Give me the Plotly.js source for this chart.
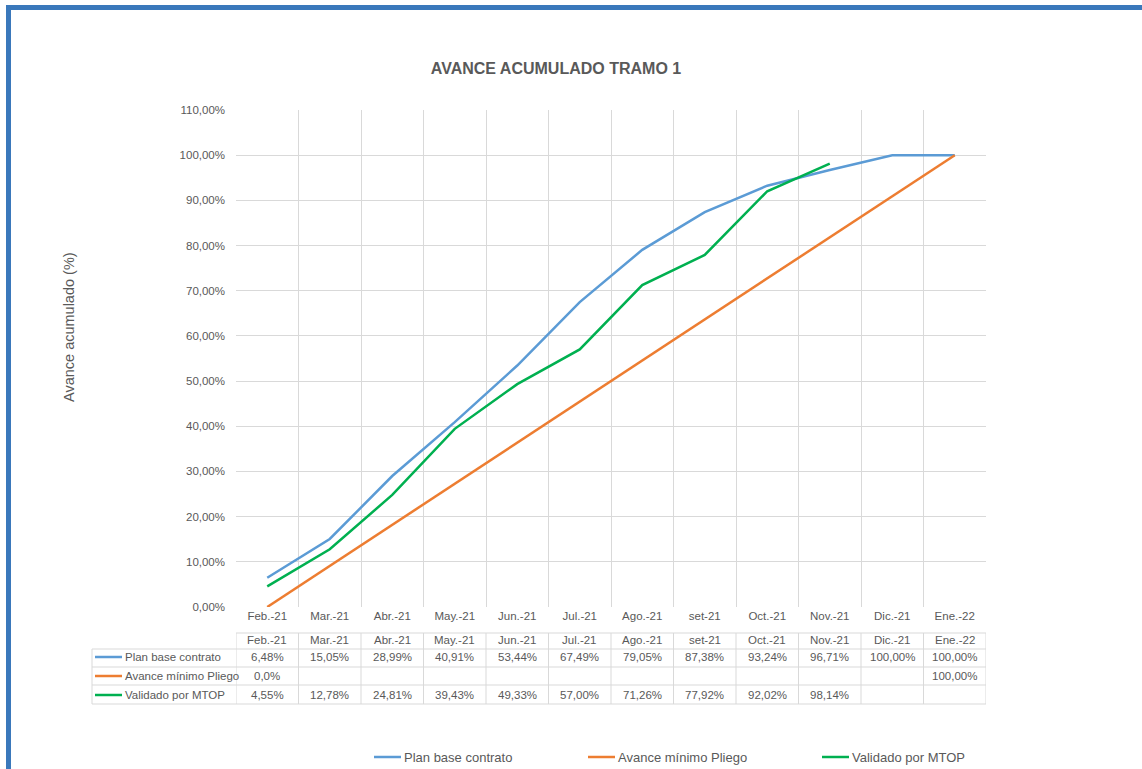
<!DOCTYPE html>
<html>
<head>
<meta charset="utf-8">
<script src="https://cdn.plot.ly/plotly-3.0.1.min.js"></script>
<style>
  html, body { margin: 0; padding: 0; background: #fff; overflow: hidden; }
  #chart { width: 1142px; height: 769px; }
</style>
</head>
<body>
<div id="chart"></div>
<script>
const months = ['Feb.-21','Mar.-21','Abr.-21','May.-21','Jun.-21','Jul.-21','Ago.-21','set-21','Oct.-21','Nov.-21','Dic.-21','Ene.-22'];
const planBase = [6.48, 15.05, 28.99, 40.91, 53.44, 67.49, 79.05, 87.38, 93.24, 96.71, 100.00, 100.00];
const pliego   = [0.0, null, null, null, null, null, null, null, null, null, null, 100.00];
const validado = [4.55, 12.78, 24.81, 39.43, 49.33, 57.00, 71.26, 77.92, 92.02, 98.14, null, null];

const seriesNames = ['Plan base contrato', 'Avance mínimo Pliego', 'Validado por MTOP'];
const seriesColors = ['#5b9bd5', '#ed7d31', '#00b050'];

// plot area in pixels
const FW = 1142, FH = 769;
const L = 236, R = 986, T = 110, B = 607;
const W = R - L, H = B - T;
function px(x) { return (x - L) / W; }
function py(y) { return (B - y) / H; }

function fmt(v, d) {
    if (v === null) return '';
    return v.toFixed(d).replace('.', ',') + '%';
}

const txtCol = '#595959';
const gridCol = '#d9d9d9';
const font = 'Liberation Sans, Arial, sans-serif';
const fs = 11.5;

// traces
const allSeries = [planBase, pliego, validado];
let traces = allSeries.map(function (vals, k) {
    return {
        x: months,
        y: vals.map(v => v === null ? null : v / 100),
        mode: 'lines',
        name: seriesNames[k],
        connectgaps: true,
        line: { color: seriesColors[k], width: 2.5 },
        hoverinfo: 'skip'
    };
});

// data table below the plot
let shapes = [];
let annotations = [];

const tblTop = 633, tblHead = 649, tblBot = 704, tblLeft = 92;
const rowMid = [657, 676, 695];
const rowLines = [667, 685];

// vertical lines at category boundaries
for (let i = 0; i <= months.length; i++) {
    shapes.push({ type: 'line', xref: 'x', yref: 'paper', x0: i - 0.5, x1: i - 0.5,
        y0: py(tblTop), y1: py(tblBot), line: { color: gridCol, width: 1 } });
}
// left border of the series name column
shapes.push({ type: 'line', xref: 'paper', yref: 'paper', x0: px(tblLeft), x1: px(tblLeft),
    y0: py(tblHead), y1: py(tblBot), line: { color: gridCol, width: 1 } });
// horizontal lines
shapes.push({ type: 'line', xref: 'paper', yref: 'paper', x0: 0, x1: 1,
    y0: py(tblTop), y1: py(tblTop), line: { color: gridCol, width: 1 } });
[tblHead].concat(rowLines).concat([tblBot]).forEach(function (yy) {
    shapes.push({ type: 'line', xref: 'paper', yref: 'paper', x0: px(tblLeft), x1: 1,
        y0: py(yy), y1: py(yy), line: { color: gridCol, width: 1 } });
});

// header row
months.forEach(function (m) {
    annotations.push({ x: m, xref: 'x', y: py(640), yref: 'paper', text: m, showarrow: false,
        font: { family: font, size: fs, color: txtCol }, xanchor: 'center', yanchor: 'middle' });
});

// series rows
allSeries.forEach(function (vals, k) {
    shapes.push({ type: 'line', xref: 'paper', yref: 'paper', x0: px(95), x1: px(122),
        y0: py(rowMid[k]), y1: py(rowMid[k]), line: { color: seriesColors[k], width: 2.5 } });
    annotations.push({ x: px(123), xref: 'paper', y: py(rowMid[k]), yref: 'paper',
        text: seriesNames[k], showarrow: false, xanchor: 'left', yanchor: 'middle',
        font: { family: font, size: fs, color: txtCol } });
    vals.forEach(function (v, i) {
        if (v === null) return;
        annotations.push({ x: months[i], xref: 'x', y: py(rowMid[k]), yref: 'paper',
            text: fmt(v, v === 0 ? 1 : 2), showarrow: false, xanchor: 'center', yanchor: 'middle',
            font: { family: font, size: fs, color: txtCol } });
    });
});

// legend at the bottom (drawn by hand: plotly's legend would push the margin)
const legY = 757;
const legKeyX = [374, 588, 822];
legKeyX.forEach(function (x0, k) {
    shapes.push({ type: 'line', xref: 'paper', yref: 'paper', x0: px(x0), x1: px(x0 + 27),
        y0: py(legY), y1: py(legY), line: { color: seriesColors[k], width: 2.5 } });
    annotations.push({ x: px(x0 + 28), xref: 'paper', y: py(legY), yref: 'paper',
        text: seriesNames[k], showarrow: false, xanchor: 'left', yanchor: 'middle',
        font: { family: font, size: 13, color: txtCol } });
});

// y axis title (Excel centres it a bit above the plot middle)
annotations.push({ x: px(69), xref: 'paper', y: py(327), yref: 'paper',
    text: 'Avance acumulado (%)', textangle: -90, showarrow: false,
    xanchor: 'center', yanchor: 'middle',
    font: { family: font, size: 14.5, color: txtCol } });

// blue frame (top and left edges visible in the screenshot)
shapes.push({ type: 'line', xref: 'paper', yref: 'paper', x0: px(6), x1: px(FW),
    y0: py(7.5), y1: py(7.5), line: { color: '#3a78bb', width: 5 } });
shapes.push({ type: 'line', xref: 'paper', yref: 'paper', x0: px(8.5), x1: px(8.5),
    y0: py(5), y1: py(FH), line: { color: '#3a78bb', width: 5 } });

const layout = {
    autosize: false,
    width: FW,
    height: FH,
    margin: { l: L, r: FW - R, t: T, b: FH - B },
    paper_bgcolor: '#ffffff',
    plot_bgcolor: '#ffffff',
    separators: ',.',
    font: { family: font, size: fs, color: txtCol },
    title: {
        text: '<b>AVANCE ACUMULADO TRAMO 1</b>',
        font: { family: font, size: 16, color: txtCol },
        xref: 'container', x: 556 / FW, xanchor: 'center',
        yref: 'container', y: 1 - 68 / FH, yanchor: 'middle'
    },
    xaxis: {
        type: 'category',
        tickson: 'boundaries',
        showgrid: true,
        gridcolor: gridCol,
        gridwidth: 1,
        showline: false,
        zeroline: false,
        ticks: '',
        tickfont: { family: font, size: fs, color: txtCol },
        range: [-0.5, months.length - 0.5]
    },
    yaxis: {
        range: [0, 1.1],
        dtick: 0.1,
        tickformat: '.2%',
        showgrid: true,
        gridcolor: gridCol,
        gridwidth: 1,
        zeroline: false,
        showline: false,
        ticks: '',
        ticklabelstandoff: 10,
        tickfont: { family: font, size: fs, color: txtCol }
    },
    showlegend: false,
    shapes: shapes,
    annotations: annotations
};

Plotly.newPlot('chart', traces, layout, { displayModeBar: false, staticPlot: true });
</script>
</body>
</html>
